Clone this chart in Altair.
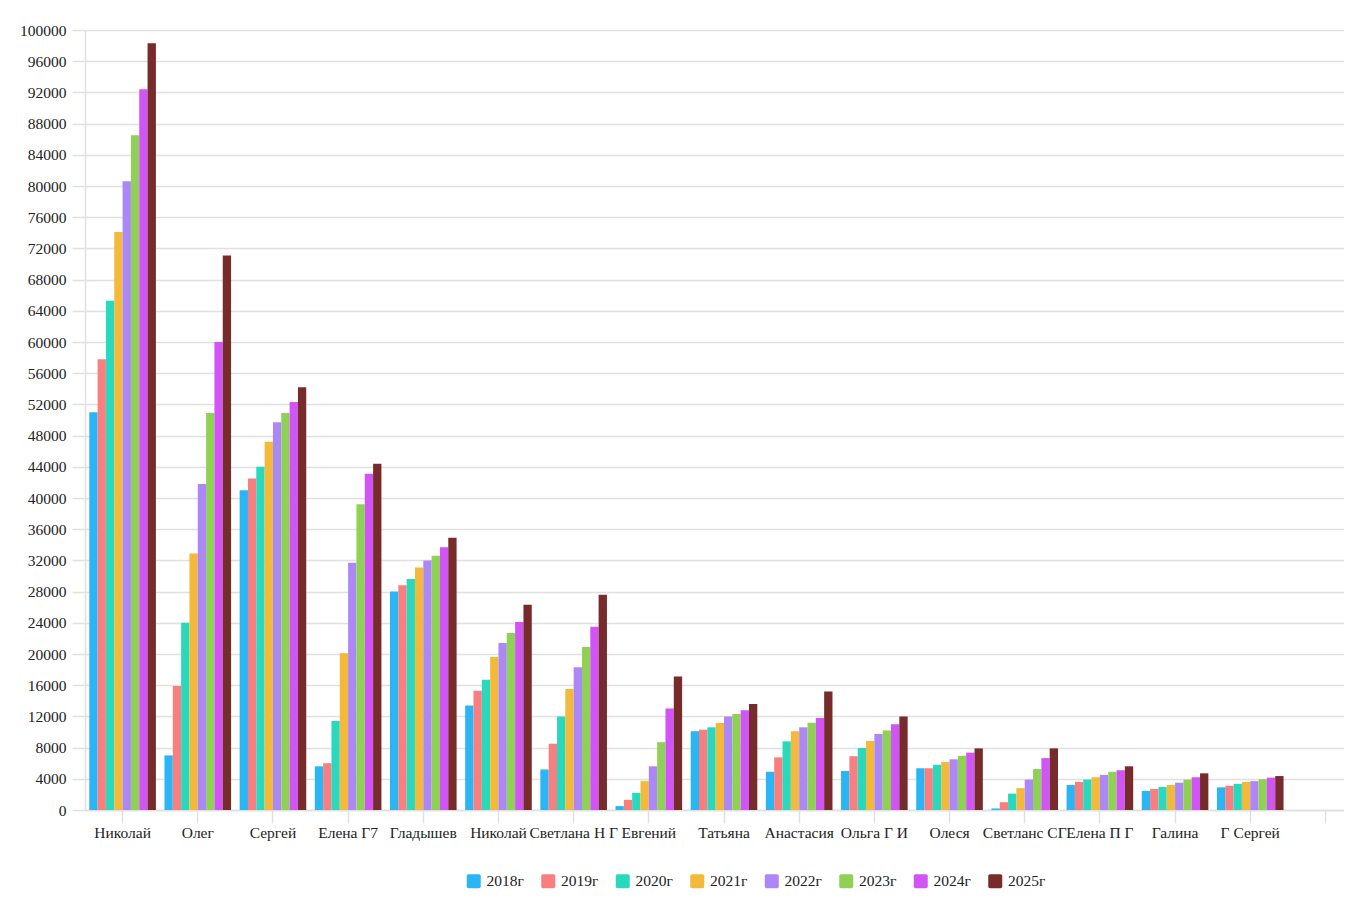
import altair as alt
import pandas as pd

categories = ["Николай", "Олег", "Сергей", "Елена Г7", "Гладышев", "Николай",
              "Светлана Н Г", "Евгений", "Татьяна", "Анастасия", "Ольга Г И",
              "Олеся", "Светланс СГ", "Елена П Г", "Галина", "Г Сергей", ""]

years = ["2018г", "2019г", "2020г", "2021г", "2022г", "2023г", "2024г", "2025г"]
colors = ["#2ab5f5", "#f77f7f", "#2ad8be", "#f3b93a", "#ac87f6", "#8fd155", "#d155f5", "#772b2b"]

y2018 = [51000, 7000, 41000, 5600, 28000, 13400, 5200, 500, 10100, 4900, 5000, 5350, 200, 3200, 2450, 2900]
y2019 = [57800, 15900, 42500, 6000, 28800, 15300, 8500, 1300, 10300, 6750, 6900, 5350, 1000, 3600, 2700, 3100]
y2020 = [65300, 24000, 44000, 11400, 29600, 16700, 12000, 2200, 10600, 8800, 7950, 5800, 2100, 3900, 2950, 3350]
y2021 = [74100, 32900, 47200, 20100, 31100, 19600, 15500, 3700, 11150, 10100, 8850, 6150, 2800, 4200, 3200, 3600]
y2022 = [80600, 41800, 49700, 31700, 32000, 21400, 18300, 5600, 12000, 10600, 9750, 6500, 3900, 4500, 3500, 3700]
y2023 = [86500, 50900, 50900, 39200, 32600, 22700, 20900, 8700, 12300, 11200, 10200, 6950, 5250, 4900, 3900, 3950]
y2024 = [92400, 60000, 52300, 43100, 33700, 24100, 23500, 13000, 12800, 11800, 11000, 7350, 6650, 5100, 4200, 4150]
y2025 = [98300, 71100, 54200, 44400, 34900, 26300, 27600, 17100, 13600, 15200, 12000, 7900, 7900, 5600, 4700, 4350]

series = [y2018, y2019, y2020, y2021, y2022, y2023, y2024, y2025]

keys = [f"{i:02d}" for i in range(len(categories))]
rows = []
for yr, vals in zip(years, series):
    for i, v in enumerate(vals):
        rows.append({"key": keys[i], "year": yr, "value": v})
df = pd.DataFrame(rows)

label_arr = "[" + ",".join("'" + c + "'" for c in categories) + "]"

FONT = "Liberation Serif"
GRID = "#e0e0e0"

rounded = ("M-0.75,-1 H0.75 A0.25,0.25 0 0 1 1,-0.75 V0.75 A0.25,0.25 0 0 1 0.75,1 "
           "H-0.75 A0.25,0.25 0 0 1 -1,0.75 V-0.75 A0.25,0.25 0 0 1 -0.75,-1 Z")

chart = alt.Chart(df).mark_bar().encode(
    x=alt.X("key:N",
            scale=alt.Scale(domain=keys, range=[0, 1278], paddingInner=0.114, paddingOuter=0.057),
            axis=alt.Axis(title=None, labelExpr=label_arr + "[toNumber(datum.value)]",
                          labelAngle=0, labelFontSize=15.5, labelFont=FONT, labelColor="#222",
                          labelPadding=2, tickSize=13, tickColor=GRID, tickWidth=1.5,
                          bandPosition=0.5, domainColor=GRID, domainWidth=1.5, grid=False)),
    xOffset=alt.XOffset("year:N", sort=years,
                        scale=alt.Scale(paddingInner=0, paddingOuter=0)),
    y=alt.Y("value:Q",
            scale=alt.Scale(domain=[0, 100000], nice=False),
            axis=alt.Axis(title=None, values=list(range(0, 100001, 4000)), format="d",
                          labelFontSize=15.5, labelFont=FONT, labelColor="#222",
                          labelPadding=6, tickSize=13, tickColor=GRID, tickWidth=1.5,
                          gridColor=GRID, gridWidth=1.5, domainColor=GRID, domainWidth=1.5)),
    color=alt.Color("year:N", sort=years,
                    scale=alt.Scale(domain=years, range=colors),
                    legend=alt.Legend(title=None, orient="none", direction="horizontal",
                                      legendX=381, legendY=843,
                                      symbolType=rounded, symbolSize=196, symbolStrokeWidth=0,
                                      symbolOpacity=1,
                                      labelFont=FONT, labelFontSize=15.5, labelColor="#222",
                                      labelOffset=5, columnPadding=16.5)),
).properties(
    width=1259, height=780,
    autosize=alt.AutoSizeParams(type="none"),
    padding={"left": 77, "top": 22, "right": 0, "bottom": 95},
).configure_view(stroke=None)

chart.save("out.html", embed_options={"renderer": "svg", "actions": False})
